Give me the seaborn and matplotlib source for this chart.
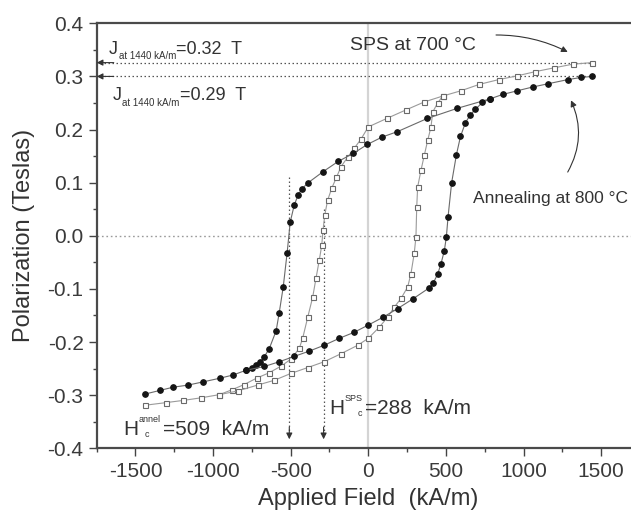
import matplotlib
matplotlib.use("Agg")
import matplotlib.pyplot as plt
import seaborn as sns
from matplotlib.ticker import MultipleLocator

# ---------------- data ----------------
annel_desc_H = [1440, 1370, 1285, 1155, 1058, 960, 865, 787, 574, 381, 187, 90, -6, -97, -194,
                -290, -387, -426, -452, -477, -503, -523, -548, -574, -594, -639, -671, -697,
                -723, -748, -787, -871, -955, -1065, -1161, -1258, -1342, -1440]
annel_desc_J = [0.300, 0.298, 0.294, 0.286, 0.280, 0.273, 0.266, 0.258, 0.240, 0.221, 0.196,
                0.186, 0.172, 0.155, 0.140, 0.121, 0.100, 0.089, 0.077, 0.058, 0.026, -0.032,
                -0.096, -0.145, -0.179, -0.213, -0.228, -0.238, -0.243, -0.249, -0.253, -0.262,
                -0.268, -0.275, -0.281, -0.285, -0.291, -0.298]
annel_asc_H = [-787, -670, -573, -477, -380, -284, -187, -94, 0, 97, 189, 286, 393, 420, 447,
               468, 490, 503, 514, 537, 568, 594, 626, 658, 690, 735, 787]
annel_asc_J = [-0.253, -0.246, -0.237, -0.227, -0.217, -0.206, -0.193, -0.182, -0.168, -0.153,
               -0.137, -0.119, -0.098, -0.088, -0.072, -0.053, -0.028, -0.002, 0.036, 0.100,
               0.153, 0.187, 0.213, 0.228, 0.238, 0.251, 0.258]

sps_desc_H = [1440, 1317, 1194, 1076, 958, 840, 715, 597, 479, 361, 243, 120, 0, -47, -90, -133,
              -176, -205, -235, -262, -280, -292, -300, -316, -337, -358, -390, -423, -445,
              -498, -560, -640, -720, -800, -880, -960, -1078, -1196, -1303, -1440]
sps_desc_J = [0.326, 0.323, 0.316, 0.309, 0.301, 0.294, 0.285, 0.273, 0.263, 0.252, 0.237,
              0.221, 0.205, 0.182, 0.165, 0.148, 0.130, 0.110, 0.090, 0.067, 0.040, 0.010,
              -0.018, -0.046, -0.080, -0.115, -0.153, -0.193, -0.212, -0.232, -0.245, -0.258,
              -0.268, -0.280, -0.290, -0.299, -0.305, -0.310, -0.314, -0.319]
sps_asc_H = [-960, -841, -713, -606, -498, -390, -284, -176, -68, 0, 71, 125, 168, 211, 254,
             275, 296, 307, 312, 318, 340, 361, 383, 404, 415, 447, 479]
sps_asc_J = [-0.299, -0.292, -0.281, -0.272, -0.259, -0.248, -0.237, -0.222, -0.206, -0.193,
             -0.172, -0.153, -0.134, -0.118, -0.096, -0.071, -0.033, -0.002, 0.054, 0.092,
             0.124, 0.152, 0.180, 0.205, 0.233, 0.250, 0.263]

Hc_annel = 509
Hc_sps = 288
J_label_sps = "0.32"
J_label_annel = "0.29"

x_ticks = [-1500, -1000, -500, 0, 500, 1000, 1500]
y_ticks = [-0.4, -0.3, -0.2, -0.1, 0.0, 0.1, 0.2, 0.3, 0.4]
y_tick_labels = ["-0.4", "-0.3", "-0.2", "-0.1", "0.0", "0.1", "0.2", "0.3", "0.4"]

# ---------------- style ----------------
sns.set_style("ticks")
plt.rcParams["font.family"] = ["Liberation Sans", "DejaVu Sans"]
plt.rcParams["axes.unicode_minus"] = False
TC = "#333333"

fig = plt.figure(figsize=(6.31, 5.18), dpi=100)
ax = fig.add_axes([96.7 / 631, 69.7 / 518, 543.2 / 631, 425 / 518])
ax.set_xlim(-1750, 1750)
ax.set_ylim(-0.4, 0.4)

# reference lines
ax.axvline(0, color="#d4d4d4", lw=1.6, zorder=0)
ax.axhline(0, color="#9a9a9a", lw=1.0, ls=(0, (1.2, 2.0)), zorder=0)


def loop(H, J, marker, mfc, mec, lc, ms):
    sns.lineplot(x=H, y=J, sort=False, estimator=None, ax=ax, color=lc, lw=0.8,
                 marker=marker, markersize=ms, markerfacecolor=mfc,
                 markeredgecolor=mec, markeredgewidth=0.8, zorder=3)


loop(sps_desc_H, sps_desc_J, "s", "white", "#6a6a6a", "#9a9a9a", 3.6)
loop(sps_asc_H, sps_asc_J, "s", "white", "#6a6a6a", "#9a9a9a", 3.6)
loop(annel_desc_H, annel_desc_J, "o", "#151515", "#151515", "#6a6a6a", 4.0)
loop(annel_asc_H, annel_asc_J, "o", "#151515", "#151515", "#6a6a6a", 4.0)

# saturation dotted lines with arrows to the axis
for Jv in (sps_desc_J[0], annel_desc_J[0]):
    ax.plot([-1730, sps_desc_H[0]], [Jv, Jv], color="#555555", lw=0.9,
            ls=(0, (1.2, 2.0)), zorder=2)
    ax.annotate("", xy=(-1750, Jv), xytext=(-1640, Jv),
                arrowprops=dict(arrowstyle="-|>", color="#333333", lw=0.8,
                                mutation_scale=9, shrinkA=0, shrinkB=0))

# coercive field dotted arrows
for Hc, top in ((-Hc_annel, 0.11), (-Hc_sps, 0.05)):
    ax.plot([Hc, Hc], [top, -0.372], color="#555555", lw=0.9, ls=(0, (1.2, 2.0)), zorder=2)
    ax.annotate("", xy=(Hc, -0.383), xytext=(Hc, -0.36),
                arrowprops=dict(arrowstyle="-|>", color="#333333", lw=0.8,
                                mutation_scale=9, shrinkA=0, shrinkB=0))


# J labels  (J + small subscript + value)
def j_label(x, y, sub, rest):
    t1 = ax.text(x, y, "J", fontsize=13, color=TC, va="baseline", ha="left")
    t2 = ax.annotate(sub, xy=(1, 0), xycoords=t1, xytext=(0.3, -1.0),
                     textcoords="offset points", fontsize=7, color=TC,
                     va="baseline", ha="left")
    ax.annotate(rest, xy=(1, 0), xycoords=(t2, t1), xytext=(0.3, 0),
                textcoords="offset points", fontsize=13, color=TC,
                va="bottom", ha="left")


j_label(-1670, 0.343, "at 1440 kA/m", "=" + J_label_sps + "  T")
j_label(-1645, 0.255, "at 1440 kA/m", "=" + J_label_annel + "  T")


# H labels (H + superscript + subscript c + value)
def h_label(x, y, sup, c_off, value):
    t1 = ax.text(x, y, "H", fontsize=15, color=TC, va="baseline", ha="left")
    t2 = ax.annotate(sup, xy=(1, 1), xycoords=t1, xytext=(0.5, -1.5),
                     textcoords="offset points", fontsize=6.5, color=TC,
                     va="baseline", ha="left")
    ax.annotate("c", xy=(1, 0), xycoords=t1, xytext=(c_off, 1.5),
                textcoords="offset points", fontsize=6.5, color=TC,
                va="baseline", ha="left")
    ax.annotate(value, xy=(1, 0), xycoords=(t2, t1), xytext=(1.5, 0),
                textcoords="offset points", fontsize=15, color=TC,
                va="bottom", ha="left")


h_label(-1582, -0.3755, "annel", 4.5, "=%d  kA/m" % Hc_annel)
h_label(-253, -0.3347, "SPS", 9.5, "=%d  kA/m" % Hc_sps)

# sample annotations with curved arrows
ax.text(-118, 0.3495, "SPS at 700 °C", fontsize=14, color=TC, ha="left", va="baseline")
ax.annotate("", xy=(1285, 0.346), xytext=(823, 0.378),
            arrowprops=dict(arrowstyle="-|>", color="#333333", lw=0.8, mutation_scale=9,
                            connectionstyle="arc3,rad=-0.12", shrinkA=0, shrinkB=0))
ax.text(672, 0.061, "Annealing at 800 °C", fontsize=12.5, color=TC, ha="left", va="baseline")
ax.annotate("", xy=(1306, 0.255), xytext=(1285, 0.120),
            arrowprops=dict(arrowstyle="-|>", color="#333333", lw=0.8, mutation_scale=9,
                            connectionstyle="arc3,rad=0.25", shrinkA=0, shrinkB=0))

# axes formatting
ax.set_xticks(x_ticks)
ax.set_yticks(y_ticks)
ax.set_yticklabels(y_tick_labels)
ax.xaxis.set_minor_locator(MultipleLocator(250))
ax.yaxis.set_minor_locator(MultipleLocator(0.05))
ax.tick_params(which="major", direction="out", length=6, width=1.0, color="#444444",
               labelsize=15, labelcolor="#3a3a3a")
ax.tick_params(which="minor", direction="out", length=3, width=1.0, color="#444444")
ax.tick_params(axis="x", pad=4)
for side in ("left", "bottom", "top", "right"):
    ax.spines[side].set_visible(True)
    ax.spines[side].set_color("#4a4a4a")
    ax.spines[side].set_linewidth(1.6)

ax.set_xlabel("Applied Field  (kA/m)", fontsize=17, color=TC, labelpad=5)
ax.set_ylabel("Polarization (Teslas)", fontsize=17, color=TC, labelpad=9)

fig.savefig("out.png", dpi=100)
